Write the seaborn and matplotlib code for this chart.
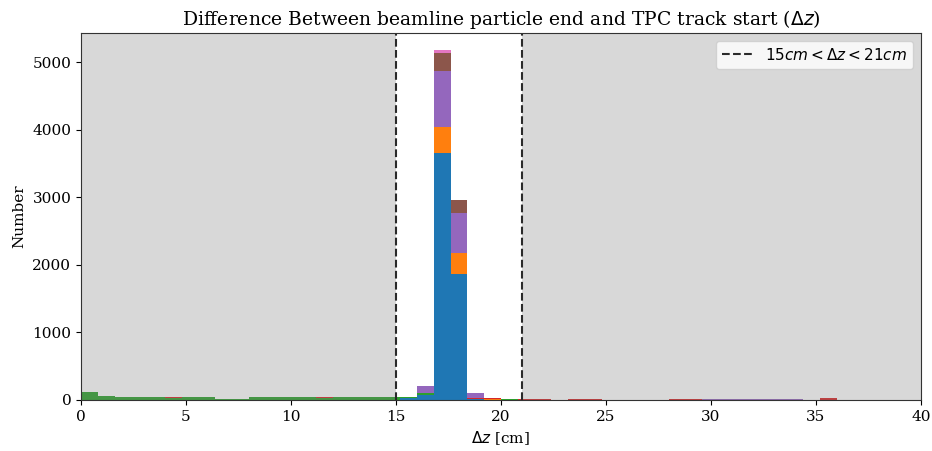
import numpy as np
import pandas as pd
import matplotlib
matplotlib.use("Agg")
import matplotlib.pyplot as plt
import seaborn as sns

# Bin edges: 0..40 cm in 0.8 cm bins (50 bins)
bin_edges = np.linspace(0, 40, 51)
bin_centers = (bin_edges[:-1] + bin_edges[1:]) / 2

# Counts per bin for each stacked category (bottom to top)
cat0 = [0]*19 + [30, 80, 3650, 1865, 15, 0] + [0]*25
cat1 = [0]*19 + [0, 0, 385, 305, 0, 15] + [0]*25
cat2 = [120, 60, 42, 40, 40, 30, 40, 40, 22, 20, 40, 40, 40, 40, 32, 40, 40, 40, 40,
        20, 25, 0, 0, 0, 0, 10] + [0]*24
cat3 = ([0]*5 + [12] + [0]*8 + [8] + [0]*6 + [0, 0, 20, 20, 0, 10, 15, 0, 14, 14, 0, 0, 0, 0, 12, 12]
        + [0]*7 + [30] + [0]*5)
cat4 = [0]*19 + [0, 100, 830, 590, 65, 0] + [0]*12 + [12, 12, 12, 12, 12, 12] + [0]*7
cat5 = [0]*19 + [0, 6, 275, 195, 0, 0] + [0]*25
cat6 = [0]*19 + [0, 0, 40, 10, 0, 0] + [0]*25

categories = ["cat0", "cat1", "cat2", "cat3", "cat4", "cat5", "cat6"]
series = [cat0, cat1, cat2, cat3, cat4, cat5, cat6]
colors = ["#1f77b4", "#ff7f0e", "#2ca02c", "#d62728", "#9467bd", "#8c564b", "#e377c2"]

rows = []
for name, vals in zip(categories, series):
    for c, v in zip(bin_centers, vals):
        rows.append({"dz": float(c), "count": float(v), "cat": name})
df = pd.DataFrame(rows)

plt.rcParams["font.family"] = ["DejaVu Serif"]

fig = plt.figure(figsize=(9.32, 4.51), dpi=100)
ax = fig.add_axes([0.0869, 0.1131, 0.9011, 0.8137])

sns.histplot(data=df, x="dz", weights="count", hue="cat",
             hue_order=categories[::-1],
             palette=dict(zip(categories, colors)),
             multiple="stack", binwidth=0.8, binrange=(0, 40), element="bars",
             linewidth=0, alpha=1, legend=False, ax=ax)

ax.axvspan(0, 15, color="gray", alpha=0.3, linewidth=0)
ax.axvspan(21, 40, color="gray", alpha=0.3, linewidth=0)
ax.axvline(15, color="#2a2a2a", ls="--", lw=1.5, label=r"$15cm < \Delta z < 21cm$")
ax.axvline(21, color="#2a2a2a", ls="--", lw=1.5)

ax.set_xlim(0, 40)
ax.set_ylim(0, 5430)
ax.set_xticks([0, 5, 10, 15, 20, 25, 30, 35, 40])
ax.set_yticks([0, 1000, 2000, 3000, 4000, 5000])
ax.set_xlabel(r"$\Delta z$ [cm]", fontsize=11)
ax.set_ylabel("Number", fontsize=11)
ax.set_title(r"Difference Between beamline particle end and TPC track start ($\Delta z$)", fontsize=13.5)
ax.tick_params(labelsize=11)
for sp in ax.spines.values():
    sp.set_color("#333333")
ax.legend(loc="upper right", prop={"family": "DejaVu Sans", "size": 11})

fig.savefig("out.png", dpi=100)
